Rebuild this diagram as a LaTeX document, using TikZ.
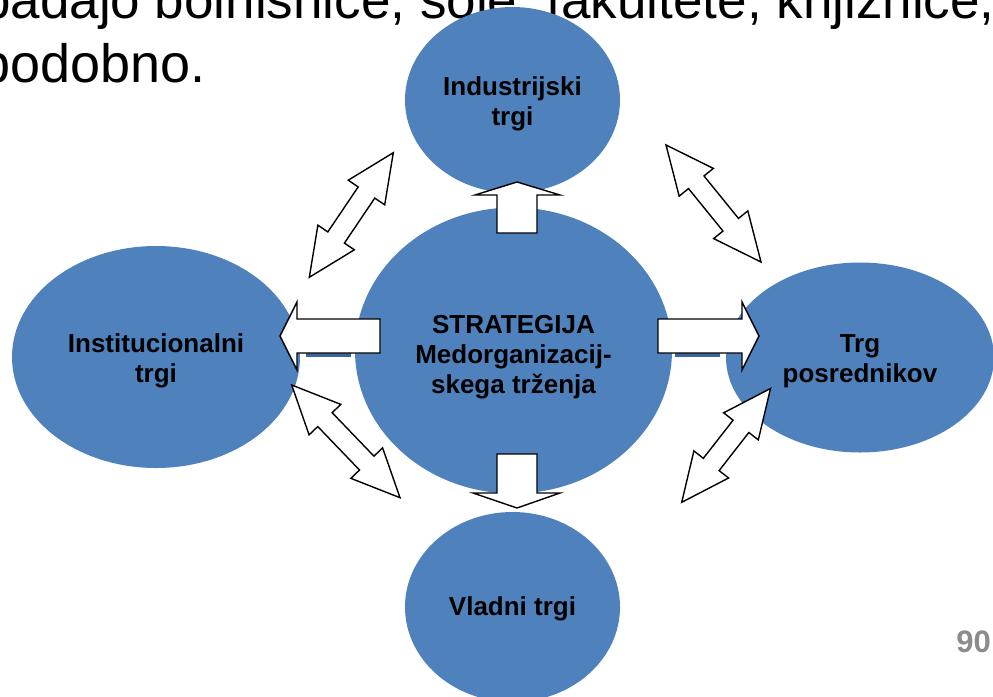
\documentclass[tikz,border=0pt]{standalone}
\usepackage{fontspec}
\setmainfont{Liberation Sans}
\usetikzlibrary{shapes.geometric}
\definecolor{blobblue}{RGB}{79,129,189}
\definecolor{stripblue}{RGB}{60,100,152}
\definecolor{pagegray}{RGB}{140,140,140}
\newcommand\dblarr[4]{%
  \pgfmathsetmacro\dang{atan2(#2-#4,#3-#1)}%
  \pgfmathsetmacro\dlen{veclen(#3-#1,#4-#2)}%
  \draw[arrowshape, shift={(#1,#2)}, rotate=\dang]
    (0,0) -- (48,22) -- (48,10) -- (\dlen-48,10) -- (\dlen-48,22) -- (\dlen,0)
    -- (\dlen-48,-22) -- (\dlen-48,-10) -- (48,-10) -- (48,-22) -- cycle;}
\begin{document}
\begin{tikzpicture}[x=1pt,y=-1pt,
  blob/.style={ellipse, fill=blobblue, draw=none, inner sep=0pt},
  lbl/.style={font=\fontsize{26}{30}\selectfont\bfseries, inner sep=0pt, anchor=base},
  arrowshape/.style={draw=black, fill=white, line width=1.4pt, line join=miter},
  bodytext/.style={inner sep=0pt, anchor=base west}]
\useasboundingbox (0,0) rectangle (993,696);
\clip (0,0) rectangle (993,696);
% slide text behind
\node[bodytext, font=\fontsize{53}{64}\selectfont] (t1) at (-19,19) {padajo bolnišnice, šole, fakultete, knjižnice,};
\node[bodytext, font=\fontsize{54}{64}\selectfont] (t2) at (-20,82) {podobno.};
% ellipses
\node[blob, minimum width=215pt, minimum height=186pt] (ind) at (512.5,100) {};
\node[blob, minimum width=317pt, minimum height=286pt] (str) at (513.5,350.5) {};
\node[blob, minimum width=288pt, minimum height=222pt] (ins) at (156,357) {};
\node[blob, minimum width=268pt, minimum height=190pt] (pos) at (860,357.5) {};
\node[blob, minimum width=215pt, minimum height=190pt] (vla) at (512.5,607) {};
% dark strips
\fill[stripblue] (306,340) rectangle (351,357);
\fill[stripblue] (675,340) rectangle (720,357);
% block arrows
\draw[arrowshape] (497,233) -- (537,233) -- (537,195) -- (560,195) -- (517,182) -- (475,195) -- (497,195) -- cycle;
\draw[arrowshape] (497,454) -- (537,454) -- (537,493) -- (560,493) -- (517,508) -- (473,493) -- (497,493) -- cycle;
\draw[arrowshape] (380,319) -- (380,353) -- (297,353) -- (297,370) -- (280,336) -- (297,302) -- (297,319) -- cycle;
\draw[arrowshape] (658,319) -- (658,353) -- (742,353) -- (742,370) -- (759,336) -- (742,302) -- (742,319) -- cycle;
% double arrows
\dblarr{309.3}{277.3}{393.3}{152.7}
\dblarr{666}{145}{761}{262}
\dblarr{291.7}{385}{400}{497.7}
\dblarr{770.5}{388.5}{681.7}{502.3}
% labels
\node[lbl] (l1a) at (512.5,95) {Industrijski};
\node[lbl] (l1b) at (512.5,125) {trgi};
\node[lbl] (l2a) at (513.5,333) {STRATEGIJA};
\node[lbl] (l2b) at (513.5,363) {Medorganizacij-};
\node[lbl] (l2c) at (513.5,393) {skega trženja};
\node[lbl] (l3a) at (156,352) {Institucionalni};
\node[lbl] (l3b) at (156,382) {trgi};
\node[lbl] (l4a) at (860,352) {Trg};
\node[lbl] (l4b) at (860,382) {posrednikov};
\node[lbl] (l5) at (512.5,615) {Vladni trgi};
\node[font=\fontsize{31}{36}\selectfont\bfseries, text=pagegray, inner sep=0pt, anchor=base east] (pg) at (991,652) {90};
\end{tikzpicture}
\end{document}
